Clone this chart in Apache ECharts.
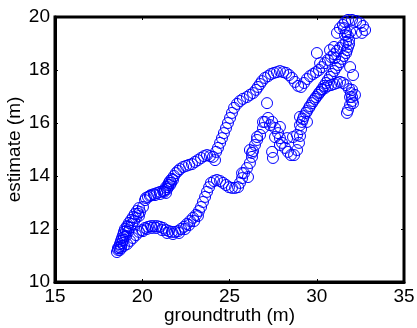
<!DOCTYPE html>
<html>
<head>
<meta charset="utf-8">
<script src="https://cdn.jsdelivr.net/npm/echarts@6/dist/echarts.min.js"></script>
<style>
html,body{margin:0;padding:0;background:#fff;}
#chart{width:417px;height:328px;}
</style>
</head>
<body>
<div id="chart"></div>
<script>
// X axis ticks / Y axis ticks
const xTicks = [15, 20, 25, 30, 35];
const yTicks = [10, 12, 14, 16, 18, 20];

// upper path (groundtruth, estimate)
const upperX = [18.61,18.67,18.72,18.78,18.84,18.90,18.95,19.01,19.13,19.24,19.36,19.47,19.58,19.70,19.81,20.04,
  20.16,20.33,20.50,20.67,20.85,21.02,21.19,21.30,21.42,21.48,21.48,21.53,21.59,21.70,21.82,21.93,22.05,22.16,
  22.34,22.51,22.68,22.85,23.02,23.19,23.37,23.54,23.71,23.88,24.05,24.23,24.34,24.46,24.57,24.68,24.80,24.91,
  25.03,25.14,25.26,25.43,25.60,25.77,26.00,26.17,26.35,26.52,26.63,26.75,26.86,27.03,27.21,27.38,27.55,27.72,
  27.89,28.07,28.24,28.41,28.58,28.75,28.93,29.10,29.27,29.44,29.61,29.79,29.96,30.13,30.30,30.47,30.64,30.82,
  30.99,31.16,31.33,31.50,31.68];
const upperY = [11.21,11.32,11.43,11.55,11.66,11.77,11.89,12.00,12.11,12.23,12.34,12.45,12.57,12.68,12.79,12.83,
  13.09,13.21,13.28,13.32,13.36,13.40,13.43,13.47,13.51,13.58,13.66,13.74,13.81,13.89,14.00,14.11,14.19,14.26,
  14.34,14.38,14.42,14.45,14.53,14.60,14.68,14.75,14.79,14.75,14.72,14.91,15.06,15.25,15.43,15.62,15.81,16.00,
  16.19,16.38,16.57,16.72,16.83,16.91,16.98,17.06,17.13,17.25,17.36,17.47,17.58,17.70,17.77,17.85,17.89,17.92,
  17.96,17.92,17.89,17.81,17.70,17.55,17.40,17.36,17.51,17.66,17.77,17.85,17.92,18.00,18.11,18.26,18.38,18.49,
  18.60,18.72,18.83,18.94,19.06];

// lower path
const lowerX = [18.78,18.95,19.13,19.30,19.47,19.64,19.81,19.99,20.16,20.33,20.50,20.67,20.85,21.02,21.19,21.36,
  21.53,21.70,21.88,22.05,22.22,22.39,22.56,22.74,22.91,23.08,23.25,23.37,23.48,23.60,23.71,23.83,23.94,24.11,
  24.28,24.46,24.63,24.80,24.97,25.14,25.32,25.49,25.60,25.72,25.83,26.00,26.17,26.29,26.35,26.46,26.58,26.75,
  26.92,27.03,27.21,27.44,27.61,27.78,27.89,28.01,28.18,28.35,28.52,28.70,28.87,28.98,29.04,29.10,29.15,29.27,
  29.44,29.61,29.79,29.96,30.13,30.30,30.47,30.64,30.82,30.99,31.16,31.33,31.50,31.68,31.85,31.96,32.02,32.02,
  31.91,31.79];
const lowerY = [11.28,11.36,11.43,11.55,11.66,11.77,11.89,11.96,12.04,12.08,12.11,12.11,12.11,12.08,12.04,11.96,
  11.92,11.89,11.89,11.92,12.00,12.08,12.19,12.30,12.42,12.53,12.68,12.83,13.02,13.21,13.40,13.58,13.74,13.81,
  13.85,13.81,13.74,13.66,13.58,13.55,13.55,13.58,13.74,13.92,14.11,14.30,14.49,14.72,14.94,15.17,15.36,15.55,
  15.81,16.04,16.19,16.04,15.81,15.62,15.43,15.25,15.06,14.91,14.79,14.79,14.98,15.25,15.51,15.77,16.04,16.26,
  16.45,16.64,16.83,16.98,17.13,17.25,17.32,17.40,17.43,17.47,17.51,17.55,17.51,17.43,17.28,17.13,16.98,16.83,
  16.68,16.49];

// diagonal path to the top
const diagX = [29.04,29.21,29.38,29.56,29.73,29.90,30.07,30.19,30.30,30.42,30.53,30.64,30.76,30.87,30.99,31.10,
  31.22,31.33,31.45,31.56,31.68,31.73,31.79,31.85,31.85,31.79,31.68,31.56,31.50,31.62,31.79,32.02,32.25,32.48,
  32.65,32.77,32.59,32.25,31.91,31.62,31.33,31.16];
const diagY = [15.92,16.15,16.38,16.57,16.75,16.91,17.06,17.17,17.28,17.40,17.51,17.62,17.74,17.85,17.96,18.08,
  18.19,18.30,18.42,18.53,18.64,18.75,18.87,18.98,19.13,19.28,19.43,19.58,19.70,19.81,19.89,19.89,19.85,19.77,
  19.66,19.51,19.40,19.40,19.43,19.32,19.58,19.40];

// scattered estimates
const looseX = [27.15,26.92,27.32,27.89,27.61,28.30,27.44,27.49,27.89,26.17,25.72,26.06,26.29,28.87,29.04,29.44,
  28.64,24.17,26.58,30.01,30.19,30.99,31.05,31.91,32.08,31.91,31.73,32.08,32.02,32.19,30.76];
const looseY = [16.75,16.04,15.92,15.85,15.47,15.43,14.91,14.68,15.17,14.98,14.11,13.96,14.87,15.55,16.23,16.04,
  15.47,14.60,15.47,18.64,18.26,18.87,18.45,18.11,17.81,16.98,16.38,16.75,17.25,17.06,18.75];

// extra estimates in the densest stretches
const denseX = [18.55,18.61,18.72,18.78,18.84,18.90,18.95,19.07,19.07,19.18,19.18,19.30,19.41,19.53,19.64,19.76,
  19.87,19.81,20.21,20.44,20.73,21.02,21.25,21.36,21.59,21.65,21.76,21.36,20.04,20.27,20.56,20.79,21.13,21.42,
  21.76,22.11,22.45,22.68,22.97,23.19];
const denseY = [11.13,11.28,11.21,11.36,11.47,11.58,11.70,11.74,11.92,11.89,12.08,12.04,12.19,12.30,12.42,12.57,
  12.64,12.49,13.17,13.25,13.28,13.32,13.40,13.58,13.66,13.74,13.85,13.36,11.92,12.00,12.04,12.04,11.96,11.85,
  11.81,11.85,12.00,12.15,12.30,12.49];

function pairs(xs, ys) { return xs.map((x, i) => [x, ys[i]]); }
const data = [].concat(pairs(upperX, upperY), pairs(lowerX, lowerY), pairs(diagX, diagY),
  pairs(looseX, looseY), pairs(denseX, denseY));

const font = "'Liberation Sans', Arial, Helvetica, sans-serif";
const chart = echarts.init(document.getElementById('chart'), null, {renderer: 'canvas'});
const tickStyle = {show: true, inside: true, length: 3, lineStyle: {color: '#000', width: 1}};
chart.setOption({
  animation: false,
  backgroundColor: '#fff',
  grid: {left: 55, top: 17, width: 349, height: 265, show: true, borderColor: '#000', borderWidth: 3,
    backgroundColor: 'transparent', containLabel: false, outerBoundsMode: 'none'},
  xAxis: [{
    type: 'value', min: xTicks[0], max: xTicks[xTicks.length - 1], interval: 5,
    name: 'groundtruth (m)', nameLocation: 'middle', nameGap: 24, nameMoveOverlap: false,
    nameTextStyle: {fontFamily: font, fontSize: 19, color: '#000'},
    axisLine: {show: true, onZero: false, lineStyle: {color: '#000', width: 3}},
    axisTick: tickStyle,
    axisLabel: {fontFamily: font, fontSize: 19, color: '#000', margin: 5},
    splitLine: {show: false}
  }, {
    type: 'value', position: 'top', min: xTicks[0], max: xTicks[xTicks.length - 1], interval: 5,
    axisLine: {show: false}, axisTick: tickStyle, axisLabel: {show: false}, splitLine: {show: false}
  }],
  yAxis: [{
    type: 'value', min: yTicks[0], max: yTicks[yTicks.length - 1], interval: 2,
    name: 'estimate (m)', nameLocation: 'middle', nameGap: 31, nameRotate: 90, nameMoveOverlap: false,
    nameTextStyle: {fontFamily: font, fontSize: 19, color: '#000'},
    axisLine: {show: true, onZero: false, lineStyle: {color: '#000', width: 3}},
    axisTick: tickStyle,
    axisLabel: {fontFamily: font, fontSize: 19, color: '#000', margin: 5},
    splitLine: {show: false}
  }, {
    type: 'value', position: 'right', min: yTicks[0], max: yTicks[yTicks.length - 1], interval: 2,
    axisLine: {show: false}, axisTick: tickStyle, axisLabel: {show: false}, splitLine: {show: false}
  }],
  series: [{
    type: 'scatter',
    data: data,
    symbol: 'circle',
    symbolSize: 11,
    itemStyle: {color: 'rgba(0,0,0,0)', borderColor: '#0000ff', borderWidth: 1, opacity: 1},
    clip: false
  }]
});
</script>
</body>
</html>
